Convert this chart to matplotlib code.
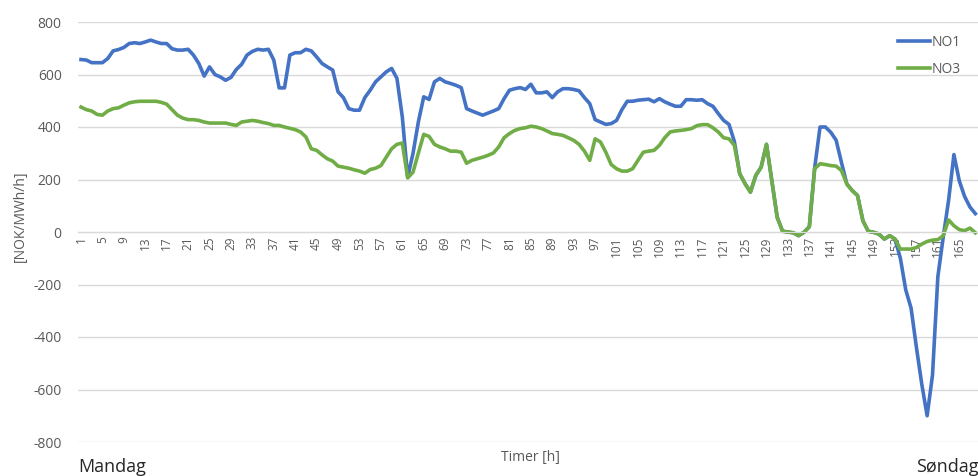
import matplotlib
matplotlib.use("Agg")
import matplotlib.pyplot as plt
import numpy as np

hours = list(range(1, 169))

no3 = [476, 466, 461, 448, 445, 461, 470, 473, 483, 492,
       496, 498, 498, 498, 498, 494, 487, 466, 445, 434,
       428, 428, 425, 419, 415, 415, 415, 415, 410, 406,
       419, 422, 425, 422, 417, 413, 406, 406, 400, 395,
       390, 381, 362, 317, 311, 294, 279, 270, 251, 247,
       243, 237, 232, 224, 238, 243, 253, 285, 317, 334,
       339, 206, 228, 301, 372, 364, 334, 324, 317, 308,
       308, 304, 262, 273, 279, 285, 292, 301, 324, 359,
       375, 387, 394, 397, 403, 400, 394, 385, 375, 372,
       368, 359, 349, 334, 308, 273, 355, 343, 304, 257,
       241, 232, 232, 241, 273, 304, 308, 311, 330, 359,
       381, 385, 387, 390, 394, 405, 409, 409, 397, 381,
       359, 355, 330, 222, 184, 152, 215, 247, 334, 196,
       56, 3, 0, -3, -14, -1, 20, 241, 260, 257,
       253, 251, 234, 183, 158, 139, 43, 3, -1, -8,
       -27, -14, -27, -65, -65, -65, -59, -46, -36, -31,
       -29, -14, 46, 24, 9, 5, 15, -3]

no1 = [657, 655, 645, 645, 645, 661, 690, 695, 703, 718,
       721, 718, 724, 731, 724, 718, 718, 698, 693, 693,
       696, 674, 642, 594, 629, 600, 591, 578, 589, 619,
       639, 674, 688, 696, 693, 696, 655, 549, 549, 674,
       683, 683, 696, 690, 667, 642, 629, 617, 534, 512,
       470, 464, 464, 512, 540, 572, 591, 610, 623, 585,
       438, 209, 300, 420, 515, 505, 572, 585, 572, 566,
       559, 550, 470, 461, 453, 445, 453, 461, 470, 508,
       540, 546, 550, 543, 563, 530, 530, 534, 512, 534,
       546, 546, 543, 538, 512, 489, 428, 419, 410, 413,
       425, 466, 498, 498, 502, 504, 506, 496, 508, 496,
       487, 479, 479, 504, 504, 502, 504, 489, 479, 451,
       425, 410, 345, 222, 184, 152, 215, 247, 334, 196,
       56, 3, 0, -3, -14, -1, 20, 245, 400, 400,
       380, 350, 265, 183, 158, 139, 43, 3, -1, -8,
       -27, -14, -27, -100, -220, -290, -440, -580, -700, -545,
       -170, -20, 120, 295, 195, 135, 95, 70]

tick_hours = list(range(1, 169, 4))
y_ticks = [-800, -600, -400, -200, 0, 200, 400, 600, 800]

plt.rcParams['font.family'] = ['Open Sans', 'DejaVu Sans']
gray = '#595959'

fig = plt.figure(figsize=(9.79, 4.76), dpi=100)
ax = fig.add_axes([0.08, 1 - 442 / 476, 0.919, (442 - 22) / 476])

for s in ['top', 'left', 'right']:
    ax.spines[s].set_visible(False)
ax.spines['bottom'].set_position(('data', 0))
ax.spines['bottom'].set_color('#D9D9D9')

ax.plot(hours, no1, color='#4472C4', lw=2.6, label='NO1', solid_joinstyle='round')
ax.plot(hours, no3, color='#70AD47', lw=2.6, label='NO3', solid_joinstyle='round')

ax.set_xlim(0.5, 168.5)
ax.set_ylim(-800, 800)
ax.set_yticks(y_ticks)
ax.set_yticklabels([str(v) for v in y_ticks])
ax.set_xticks(tick_hours)
ax.set_xticklabels([str(h) for h in tick_hours])
ax.tick_params(axis='both', length=0, labelcolor=gray)
ax.tick_params(axis='x', pad=3, labelrotation=90, labelsize=8.5)
ax.tick_params(axis='y', pad=12, labelsize=10)

ax.grid(axis='y', color='#D9D9D9', lw=1)
ax.set_axisbelow(True)

leg = ax.legend(loc='upper right', bbox_to_anchor=(0.995, 1.0), frameon=False,
                fontsize=10, handlelength=2.3, handletextpad=0.1, labelspacing=0.9)
for t in leg.get_texts():
    t.set_color(gray)

fig.text(20 / 979, 1 - 216 / 476, '[NOK/MWh/h]', rotation=90, ha='center', va='center',
         color=gray, fontsize=10)
fig.text(530 / 979, 1 - 457 / 476, 'Timer [h]', ha='center', va='center',
         color=gray, fontsize=10)
fig.text(78 / 979, 1 - 467 / 476, 'Mandag', ha='left', va='center',
         color='#262626', fontsize=13)
fig.text(979 / 979, 1 - 467 / 476, 'Søndag', ha='right', va='center',
         color='#262626', fontsize=13)

fig.savefig('out.png', dpi=100)
